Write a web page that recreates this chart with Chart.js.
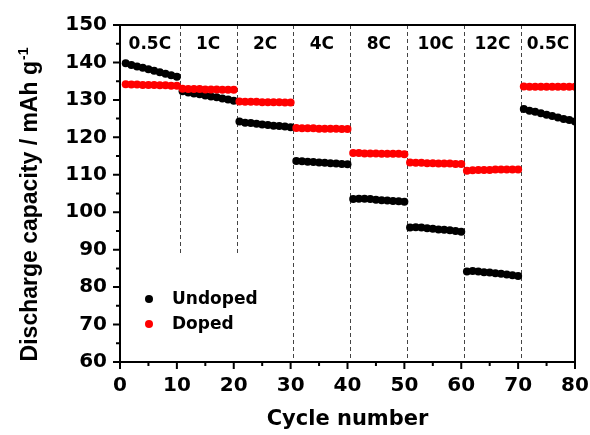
<!DOCTYPE html>
<html>
<head>
<meta charset="utf-8">
<script src="https://cdn.jsdelivr.net/npm/chart.js@4.4.1/dist/chart.umd.min.js"></script>
<style>
  html, body { margin: 0; padding: 0; background: #fff; }
</style>
</head>
<body>
<canvas id="rateChart" width="590" height="435"></canvas>
<script>
const ctx = document.getElementById('rateChart').getContext('2d');

// C-rate steps, 10 cycles each
const rates = ['0.5C', '1C', '2C', '4C', '8C', '10C', '12C', '0.5C'];
const dividers = [10.5, 20.5, 30.5, 40.5, 50.5, 60.5, 70.5];
const dividerEnds = [89, 89, 60, 60, 60, 60, 60];   // capacity where each dashed line stops

const cycles = [];
for (let i = 1; i <= 80; i++) cycles.push(i);

const undoped = [
  139.8, 139.3, 138.9, 138.6, 138.2, 137.8, 137.4, 137.0, 136.6, 136.2,
  132.3, 132.0, 131.7, 131.5, 131.2, 130.9, 130.7, 130.4, 130.1, 129.8,
  124.2, 123.9, 123.8, 123.6, 123.4, 123.3, 123.1, 123.0, 122.9, 122.7,
  113.7, 113.6, 113.5, 113.4, 113.3, 113.2, 113.1, 113.0, 112.9, 112.8,
  103.5, 103.6, 103.6, 103.5, 103.3, 103.2, 103.1, 103.0, 102.9, 102.8,
  95.9, 96.0, 95.9, 95.7, 95.6, 95.4, 95.3, 95.2, 95.0, 94.8,
  84.2, 84.3, 84.2, 84.0, 83.9, 83.7, 83.6, 83.4, 83.2, 83.0,
  127.6, 127.1, 126.8, 126.4, 126.0, 125.7, 125.3, 124.9, 124.6, 124.2
];

const doped = [
  134.2, 134.1, 134.1, 134.0, 134.0, 134.0, 133.9, 133.9, 133.8, 133.8,
  133.0, 132.9, 132.9, 132.9, 132.8, 132.8, 132.8, 132.7, 132.7, 132.7,
  129.6, 129.5, 129.5, 129.5, 129.4, 129.4, 129.4, 129.4, 129.3, 129.3,
  122.5, 122.4, 122.4, 122.4, 122.3, 122.3, 122.3, 122.3, 122.2, 122.2,
  115.8, 115.8, 115.7, 115.7, 115.7, 115.6, 115.6, 115.6, 115.6, 115.5,
  113.3, 113.2, 113.2, 113.1, 113.1, 113.0, 113.0, 113.0, 112.9, 112.9,
  111.1, 111.2, 111.3, 111.3, 111.3, 111.4, 111.4, 111.4, 111.4, 111.4,
  133.6, 133.5, 133.5, 133.5, 133.5, 133.5, 133.5, 133.5, 133.5, 133.5
];

const FONT = '"DejaVu Sans", sans-serif';

function toPoints(vals) {
  return cycles.map((c, i) => ({ x: c, y: vals[i] }));
}

// dashed separators, rate labels, frame, tick marks, legend and y title
const decor = {
  id: 'decor',
  beforeDatasetsDraw(chart) {
    const c = chart.ctx, xs = chart.scales.x, ys = chart.scales.y, a = chart.chartArea;
    c.save();
    c.strokeStyle = '#444';
    c.lineWidth = 1;
    c.setLineDash([4, 3]);
    dividers.forEach((d, i) => {
      const px = Math.round(xs.getPixelForValue(d)) + 0.5;
      c.beginPath();
      c.moveTo(px, a.top);
      c.lineTo(px, ys.getPixelForValue(dividerEnds[i]));
      c.stroke();
    });
    c.setLineDash([]);
    c.fillStyle = '#000';
    c.font = 'bold 17px ' + FONT;
    c.textAlign = 'center';
    c.textBaseline = 'middle';
    const bounds = [0].concat(dividers, [80]);
    rates.forEach((r, i) => {
      const mid = (bounds[i] + bounds[i + 1]) / 2;
      c.fillText(r, xs.getPixelForValue(mid), a.top + 20);
    });
    c.restore();
  },
  afterDraw(chart) {
    const c = chart.ctx, xs = chart.scales.x, ys = chart.scales.y, a = chart.chartArea;
    c.save();
    c.strokeStyle = '#000';
    c.lineWidth = 2;
    c.strokeRect(a.left, a.top, a.right - a.left, a.bottom - a.top);

    c.beginPath();
    xs.ticks.forEach(t => {
      const px = xs.getPixelForValue(t.value);
      c.moveTo(px, a.bottom);
      c.lineTo(px, a.bottom + (t.value % 10 === 0 ? 7 : 4));
    });
    ys.ticks.forEach(t => {
      const py = ys.getPixelForValue(t.value);
      c.moveTo(a.left, py);
      c.lineTo(a.left - (t.value % 10 === 0 ? 7 : 4), py);
    });
    c.stroke();

    // legend
    c.font = 'bold 17px ' + FONT;
    c.textAlign = 'left';
    c.textBaseline = 'middle';
    chart.data.datasets.forEach((ds, i) => {
      const y = 299 + i * 25;
      c.fillStyle = ds.backgroundColor;
      c.beginPath();
      c.arc(149, y, 4, 0, Math.PI * 2);
      c.fill();
      c.fillStyle = '#000';
      c.fillText(ds.label, 172, y + 1);
    });

    // y axis title with superscript
    const main = 'Discharge capacity / mAh g';
    const sup = '-1';
    c.font = 'bold 23px "Liberation Sans", Arial, sans-serif';
    const w1 = c.measureText(main).width;
    c.font = 'bold 14px "Liberation Sans", Arial, sans-serif';
    const w2 = c.measureText(sup).width;
    c.translate(37, 205);
    c.rotate(-Math.PI / 2);
    c.fillStyle = '#000';
    c.textAlign = 'left';
    c.textBaseline = 'alphabetic';
    const start = -(w1 + w2) / 2;
    c.font = 'bold 23px "Liberation Sans", Arial, sans-serif';
    c.fillText(main, start, 0);
    c.font = 'bold 14px "Liberation Sans", Arial, sans-serif';
    c.fillText(sup, start + w1 + 1, -9);
    c.restore();
  }
};

Chart.defaults.color = '#000';

const rateChart = new Chart(ctx, {
  type: 'scatter',
  data: {
    datasets: [{
      label: 'Undoped',
      data: toPoints(undoped),
      backgroundColor: '#000000',
      borderWidth: 0,
      pointRadius: 4,
      order: 2
    }, {
      label: 'Doped',
      data: toPoints(doped),
      backgroundColor: '#ff0000',
      borderWidth: 0,
      pointRadius: 4,
      order: 1
    }]
  },
  options: {
    responsive: false,
    animation: false,
    layout: { padding: { top: 24, right: 15, left: 0, bottom: 0 } },
    plugins: {
      legend: { display: false },
      tooltip: { enabled: false }
    },
    scales: {
      x: {
        type: 'linear',
        min: 0,
        max: 80,
        grid: { display: false, drawTicks: false },
        border: { display: false },
        ticks: {
          stepSize: 5,
          autoSkip: false,
          maxRotation: 0,
          padding: 12,
          font: { family: FONT, size: 20, weight: 'bold' },
          callback: v => (v % 10 === 0 ? v : '')
        },
        title: {
          display: true,
          text: 'Cycle number',
          font: { family: FONT, size: 21, weight: 'bold' },
          padding: { top: 0, bottom: 3 }
        },
        afterFit: s => {
          s.height = 73;
          s.paddingLeft = 0;
          s.paddingRight = 0;
        }
      },
      y: {
        min: 60,
        max: 150,
        grid: { display: false, drawTicks: false },
        border: { display: false },
        ticks: {
          stepSize: 5,
          autoSkip: false,
          padding: 13,
          font: { family: FONT, size: 20, weight: 'bold' },
          callback: v => (v % 10 === 0 ? v : '')
        },
        afterFit: s => { s.width = 120; }
      }
    }
  },
  plugins: [decor]
});
</script>
</body>
</html>
